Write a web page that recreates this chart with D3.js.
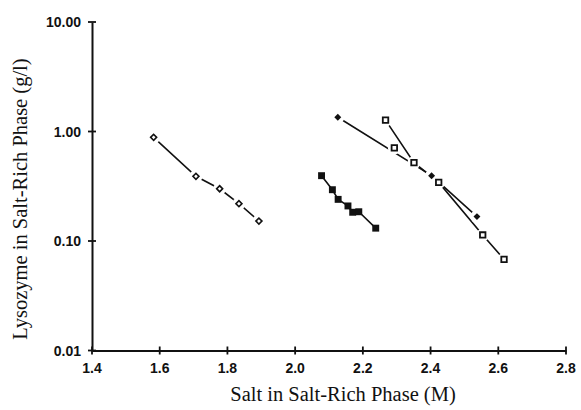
<!DOCTYPE html>
<html lang="en">
<head>
  <meta charset="UTF-8">
  <title>Lysozyme partitioning</title>
  <script src="https://d3js.org/d3.v7.min.js"></script>
  <style>
    body {
      margin: 0;
      padding: 0;
      background: #fff;
    }
    .tick-label {
      font-family: "Liberation Sans", sans-serif;
      font-weight: bold;
      font-size: 14px;
      fill: #111;
    }
    .axis-title {
      font-family: "Liberation Serif", "DejaVu Serif", serif;
      font-size: 20.5px;
      fill: #111;
    }
  </style>
</head>
<body>
  <svg id="chart" width="581" height="410"></svg>

  <script>
    // tick values
    const xTicks = [1.4, 1.6, 1.8, 2.0, 2.2, 2.4, 2.6, 2.8];
    const yTicks = [0.01, 0.1, 1, 10];

    // open diamonds
    const openDiamondX = [1.582, 1.707, 1.777, 1.834, 1.893];
    const openDiamondY = [0.885, 0.39, 0.30, 0.219, 0.152];

    // filled squares
    const filledSquareX = [2.078, 2.110, 2.127, 2.156, 2.170, 2.188, 2.238];
    const filledSquareY = [0.395, 0.294, 0.240, 0.209, 0.183, 0.185, 0.131];

    // filled diamonds
    const filledDiamondX = [2.126, 2.403, 2.537];
    const filledDiamondY = [1.35, 0.395, 0.167];

    // open squares (connected)
    const openSquareX = [2.267, 2.351, 2.424, 2.554, 2.617];
    const openSquareY = [1.27, 0.52, 0.343, 0.1135, 0.068];

    // open square sitting on the filled-diamond line
    const extraSquareX = [2.293];
    const extraSquareY = [0.71];

    const zip = (xs, ys) => xs.map((x, i) => ({ x, y: ys[i] }));

    const svg = d3.select("#chart");
    const plotLeft = 92, plotRight = 566, plotTop = 22, plotBottom = 350.5;

    const x = d3.scaleLinear().domain([1.4, 2.8]).range([plotLeft, plotRight]);
    const y = d3.scaleLog().domain([0.01, 10]).range([plotBottom, plotTop]);

    // axes
    const xAxis = svg.append("g")
      .attr("transform", `translate(0,${plotBottom})`)
      .call(d3.axisBottom(x).tickValues(xTicks).tickSize(0).tickPadding(0).tickFormat(""));
    xAxis.select(".domain").attr("stroke", "#111").attr("stroke-width", 2);

    const yAxis = svg.append("g")
      .attr("transform", `translate(${plotLeft},0)`)
      .call(d3.axisLeft(y).tickValues(yTicks).tickSize(0).tickFormat(""));
    yAxis.select(".domain").attr("stroke", "#111").attr("stroke-width", 2);

    // crossing tick marks
    svg.append("g").selectAll("line")
      .data(xTicks)
      .join("line")
      .attr("x1", d => x(d)).attr("x2", d => x(d))
      .attr("y1", plotBottom - 4).attr("y2", plotBottom + 4)
      .attr("stroke", "#111").attr("stroke-width", 1.8);

    svg.append("g").selectAll("line")
      .data(yTicks)
      .join("line")
      .attr("x1", plotLeft - 4).attr("x2", plotLeft + 4)
      .attr("y1", d => y(d)).attr("y2", d => y(d))
      .attr("stroke", "#111").attr("stroke-width", 1.8);

    svg.append("g").selectAll("text")
      .data(xTicks)
      .join("text")
      .attr("class", "tick-label")
      .attr("x", d => x(d))
      .attr("y", plotBottom + 22)
      .attr("text-anchor", "middle")
      .text(d => d.toFixed(1));

    svg.append("g").selectAll("text")
      .data(yTicks)
      .join("text")
      .attr("class", "tick-label")
      .attr("x", plotLeft - 11)
      .attr("y", d => y(d) + 5)
      .attr("text-anchor", "end")
      .text(d => d.toFixed(2));

    // titles
    svg.append("text")
      .attr("class", "axis-title")
      .attr("x", 343)
      .attr("y", 401)
      .attr("text-anchor", "middle")
      .text("Salt in Salt-Rich Phase (M)");

    svg.append("text")
      .attr("class", "axis-title")
      .attr("transform", "translate(27,199) rotate(-90)")
      .attr("text-anchor", "middle")
      .text("Lysozyme in Salt-Rich Phase (g/l)");

    // lines
    const line = d3.line().x(d => x(d.x)).y(d => y(d.y));
    const lineSets = [
      zip(openDiamondX, openDiamondY),
      zip(filledSquareX, filledSquareY),
      zip(filledDiamondX, filledDiamondY),
      zip(openSquareX, openSquareY)
    ];
    svg.append("g").selectAll("path")
      .data(lineSets)
      .join("path")
      .attr("d", line)
      .attr("fill", "none")
      .attr("stroke", "#111")
      .attr("stroke-width", 1.6);

    // white halos so lines stop short of markers
    const allPts = [].concat(
      zip(openDiamondX, openDiamondY),
      zip(filledDiamondX, filledDiamondY),
      zip(openSquareX, openSquareY),
      zip(extraSquareX, extraSquareY)
    );
    svg.append("g").selectAll("circle")
      .data(allPts)
      .join("circle")
      .attr("cx", d => x(d.x)).attr("cy", d => y(d.y))
      .attr("r", 6.5)
      .attr("fill", "#fff");

    const sym = (type, size) => d3.symbol().type(type).size(size);

    svg.append("g").selectAll("path")
      .data(zip(openDiamondX, openDiamondY))
      .join("path")
      .attr("transform", d => `translate(${x(d.x)},${y(d.y)}) rotate(45)`)
      .attr("d", sym(d3.symbolSquare, 18))
      .attr("fill", "#fff").attr("stroke", "#111").attr("stroke-width", 1.6);

    svg.append("g").selectAll("path")
      .data(zip(filledSquareX, filledSquareY))
      .join("path")
      .attr("transform", d => `translate(${x(d.x)},${y(d.y)})`)
      .attr("d", sym(d3.symbolSquare, 48))
      .attr("fill", "#111");

    svg.append("g").selectAll("path")
      .data(zip(filledDiamondX, filledDiamondY))
      .join("path")
      .attr("transform", d => `translate(${x(d.x)},${y(d.y)}) rotate(45)`)
      .attr("d", sym(d3.symbolSquare, 24))
      .attr("fill", "#111");

    svg.append("g").selectAll("path")
      .data(zip(openSquareX, openSquareY).concat(zip(extraSquareX, extraSquareY)))
      .join("path")
      .attr("transform", d => `translate(${x(d.x)},${y(d.y)})`)
      .attr("d", sym(d3.symbolSquare, 30))
      .attr("fill", "#fff").attr("stroke", "#111").attr("stroke-width", 1.8);
  </script>
</body>
</html>
